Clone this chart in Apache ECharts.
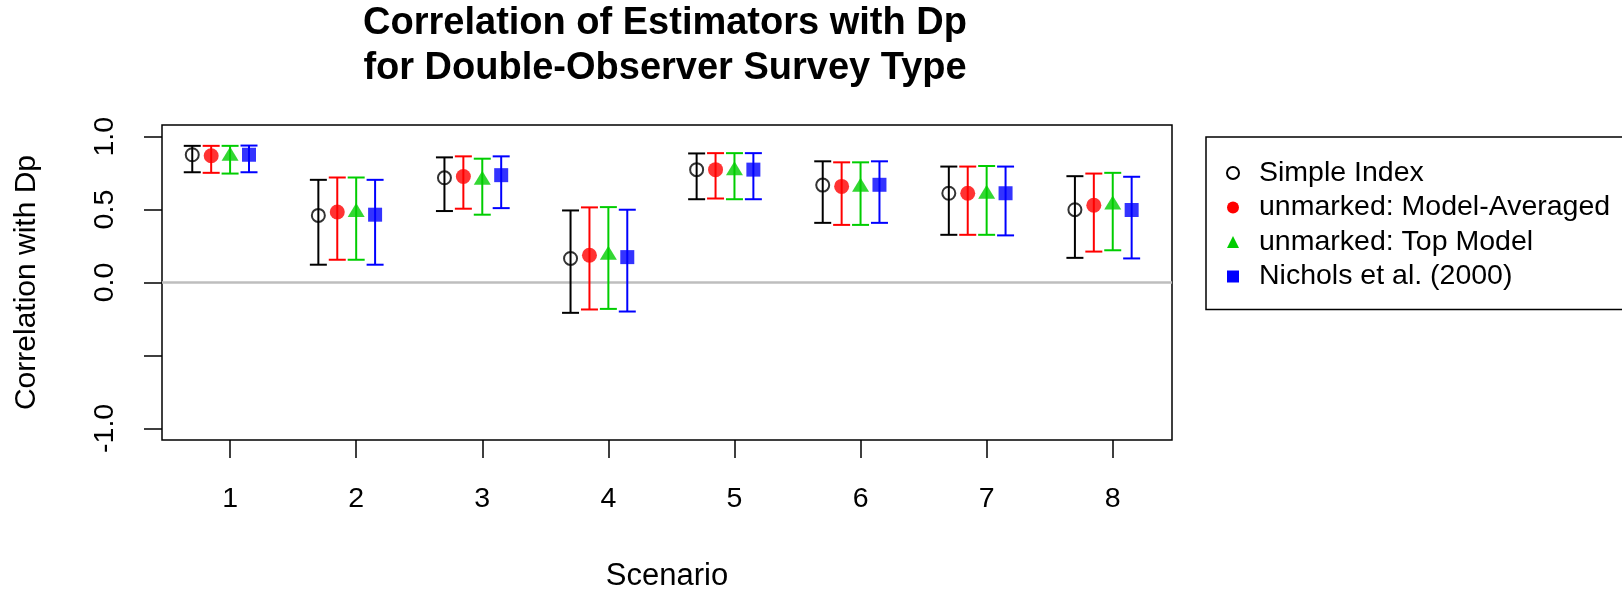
<!DOCTYPE html>
<html>
<head>
<meta charset="utf-8">
<script src="https://cdn.jsdelivr.net/npm/echarts@6/dist/echarts.min.js"></script>
<style>
html,body{margin:0;padding:0;background:#fff;}
#chart{width:1622px;height:597px;}
</style>
</head>
<body>
<div id="chart"></div>
<script>
// ---- data ----
const scenarios = [1, 2, 3, 4, 5, 6, 7, 8];
const seriesNames = ['Simple Index', 'unmarked: Model-Averaged', 'unmarked: Top Model', 'Nichols et al. (2000)'];

const simpleMean = [0.876, 0.460, 0.718, 0.165, 0.774, 0.668, 0.612, 0.499];
const simpleLo   = [0.756, 0.122, 0.490, -0.208, 0.571, 0.409, 0.327, 0.169];
const simpleHi   = [0.937, 0.704, 0.858, 0.494, 0.885, 0.831, 0.795, 0.729];

const maMean = [0.869, 0.483, 0.727, 0.187, 0.774, 0.659, 0.612, 0.530];
const maLo   = [0.752, 0.156, 0.506, -0.185, 0.576, 0.395, 0.327, 0.212];
const maHi   = [0.937, 0.720, 0.865, 0.515, 0.887, 0.824, 0.795, 0.747];

const topMean = [0.867, 0.481, 0.703, 0.188, 0.768, 0.655, 0.607, 0.533];
const topLo   = [0.747, 0.156, 0.465, -0.181, 0.571, 0.395, 0.327, 0.221];
const topHi   = [0.937, 0.720, 0.849, 0.517, 0.887, 0.824, 0.799, 0.752];

const nicholsMean = [0.876, 0.465, 0.736, 0.174, 0.774, 0.670, 0.612, 0.497];
const nicholsLo   = [0.756, 0.122, 0.510, -0.199, 0.571, 0.409, 0.323, 0.165];
const nicholsHi   = [0.939, 0.704, 0.865, 0.499, 0.887, 0.831, 0.795, 0.725];

const xTickValues = [1, 2, 3, 4, 5, 6, 7, 8];
const yTickValues = [-1, -0.5, 0, 0.5, 1];
const yTickLabels = [-1, 0, 0.5, 1];

// ---- styles / layout ----
const dodge = [-0.3, -0.15, 0, 0.15];
const colors = ['#000000', '#ff0000', '#00cd00', '#0000ff'];
const FONT = '"Liberation Sans", Arial, sans-serif';
const groups = [
  [simpleMean, simpleLo, simpleHi],
  [maMean, maLo, maHi],
  [topMean, topLo, topHi],
  [nicholsMean, nicholsLo, nicholsHi]
];
const markerStyles = [
  {symbol: 'circle', symbolSize: 13, symbolOffset: [0, 0], itemStyle: {color: 'rgba(0,0,0,0)', borderColor: '#000', borderWidth: 2}},
  {symbol: 'circle', symbolSize: 15, symbolOffset: [0, 0], itemStyle: {color: '#ff0000'}},
  {symbol: 'triangle', symbolSize: [17, 14], symbolOffset: [0, -2.3], itemStyle: {color: '#00cd00'}},
  {symbol: 'rect', symbolSize: 14, symbolOffset: [0, 0], itemStyle: {color: '#0000ff'}}
];
const legendIcons = [
  {icon: 'circle', itemStyle: {color: 'rgba(0,0,0,0)', borderColor: '#000', borderWidth: 2}},
  {icon: 'circle', itemStyle: {color: '#ff0000', borderWidth: 0}},
  {icon: 'triangle', itemStyle: {color: '#00cd00', borderWidth: 0}},
  {icon: 'rect', itemStyle: {color: '#0000ff', borderWidth: 0}}
];

const series = [];
groups.forEach(function (g, i) {
  const [mean, lo, hi] = g;
  const color = colors[i];
  const barData = scenarios.map((s, k) => [s + dodge[i], lo[k], hi[k]]);
  const barSeries = {
    name: seriesNames[i],
    type: 'custom',
    z: 2,
    data: barData,
    encode: {x: 0, y: [1, 2]},
    renderItem: function (params, api) {
      const x = api.value(0);
      const pLo = api.coord([x, api.value(1)]);
      const pHi = api.coord([x, api.value(2)]);
      const cap = 8.5;
      const st = {stroke: color, lineWidth: 2};
      return {
        type: 'group',
        children: [
          {type: 'line', shape: {x1: pLo[0], y1: pLo[1], x2: pHi[0], y2: pHi[1]}, style: st},
          {type: 'line', shape: {x1: pLo[0] - cap, y1: pLo[1], x2: pLo[0] + cap, y2: pLo[1]}, style: st},
          {type: 'line', shape: {x1: pHi[0] - cap, y1: pHi[1], x2: pHi[0] + cap, y2: pHi[1]}, style: st}
        ]
      };
    }
  };
  if (i === 0) {
    barSeries.markLine = {
      silent: true,
      symbol: ['none', 'none'],
      label: {show: false},
      lineStyle: {color: '#bebebe', width: 2.5, type: 'solid'},
      z: 1,
      data: [{yAxis: 0}]
    };
  }
  series.push(barSeries);
  const ms = markerStyles[i];
  series.push({
    name: seriesNames[i],
    type: 'scatter',
    z: 3,
    symbol: ms.symbol,
    symbolSize: ms.symbolSize,
    symbolOffset: ms.symbolOffset,
    itemStyle: ms.itemStyle,
    emphasis: {disabled: true},
    data: scenarios.map((s, k) => [s + dodge[i], mean[k]])
  });
});

const chart = echarts.init(document.getElementById('chart'), null, {renderer: 'canvas'});
chart.setOption({
  animation: false,
  backgroundColor: '#ffffff',
  title: {
    text: 'Correlation of Estimators with Dp\nfor Double-Observer Survey Type',
    left: 665,
    top: 0,
    padding: [1, 0, 0, 0],
    textAlign: 'center',
    textStyle: {fontFamily: FONT, fontSize: 38, fontWeight: 'bold', color: '#000', lineHeight: 45}
  },
  legend: {
    orient: 'vertical',
    left: 1206,
    top: 137,
    padding: [19, 220, 16, 20],
    borderColor: '#000',
    borderWidth: 1.5,
    itemGap: 0.5,
    itemWidth: 12,
    itemHeight: 12,
    selectedMode: false,
    textStyle: {fontFamily: FONT, fontSize: 28.5, color: '#000', lineHeight: 34, padding: [0, 0, 0, 15]},
    data: seriesNames.map((n, i) => Object.assign({name: n}, legendIcons[i]))
  },
  grid: {
    left: 162, right: 450, top: 125, bottom: 153,
    show: true, borderColor: '#000', borderWidth: 1.5, backgroundColor: 'transparent'
  },
  xAxis: {
    type: 'value',
    min: 0.46, max: 8.47,
    name: 'Scenario',
    nameLocation: 'middle',
    nameGap: 121,
    nameTextStyle: {fontFamily: FONT, fontSize: 31, color: '#000'},
    axisLine: {show: false, onZero: false},
    splitLine: {show: false},
    axisTick: {show: true, length: 18, lineStyle: {color: '#000', width: 1.5}, customValues: xTickValues},
    axisLabel: {fontFamily: FONT, fontSize: 28.5, color: '#000', margin: 45, customValues: xTickValues,
      formatter: v => String(v)}
  },
  yAxis: {
    type: 'value',
    min: -1.08, max: 1.08,
    name: 'Correlation with Dp',
    nameLocation: 'middle',
    nameRotate: 90,
    nameGap: 120,
    nameTextStyle: {fontFamily: FONT, fontSize: 30, color: '#000'},
    axisLine: {show: false, onZero: false},
    splitLine: {show: false},
    axisTick: {show: true, length: 18, lineStyle: {color: '#000', width: 1.5}, customValues: yTickValues},
    axisLabel: {fontFamily: FONT, fontSize: 28.5, color: '#000', margin: 42, rotate: 90, customValues: yTickLabels,
      formatter: v => Number(v).toFixed(1)}
  },
  series: series
});
</script>
</body>
</html>
